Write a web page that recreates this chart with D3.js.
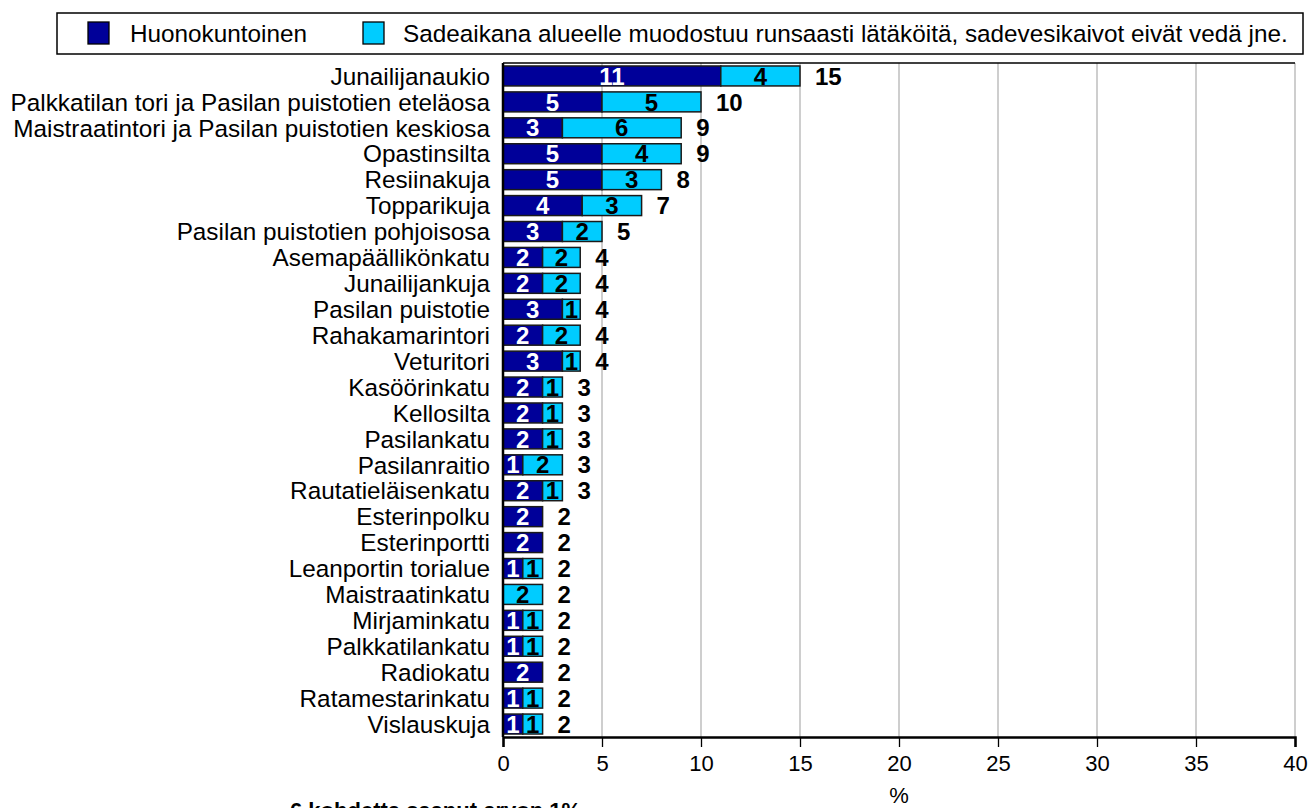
<!DOCTYPE html>
<html>
<head>
<meta charset="utf-8">
<script src="https://cdn.jsdelivr.net/npm/d3@7/dist/d3.min.js"></script>
<style>
  html, body { margin: 0; padding: 0; background: #fff; }
  svg { display: block; font-family: Arial, "Liberation Sans", sans-serif; }
</style>
</head>
<body>
<svg id="chart" width="1312" height="808"></svg>
<script>
const categories = [
  "Junailijanaukio",
  "Palkkatilan tori ja Pasilan puistotien eteläosa",
  "Maistraatintori ja Pasilan puistotien keskiosa",
  "Opastinsilta",
  "Resiinakuja",
  "Topparikuja",
  "Pasilan puistotien pohjoisosa",
  "Asemapäällikönkatu",
  "Junailijankuja",
  "Pasilan puistotie",
  "Rahakamarintori",
  "Veturitori",
  "Kasöörinkatu",
  "Kellosilta",
  "Pasilankatu",
  "Pasilanraitio",
  "Rautatieläisenkatu",
  "Esterinpolku",
  "Esterinportti",
  "Leanportin torialue",
  "Maistraatinkatu",
  "Mirjaminkatu",
  "Palkkatilankatu",
  "Radiokatu",
  "Ratamestarinkatu",
  "Vislauskuja"
];
const huonokuntoinen = [11, 5, 3, 5, 5, 4, 3, 2, 2, 3, 2, 3, 2, 2, 2, 1, 2, 2, 2, 1, 0, 1, 1, 2, 1, 1];
const latakot =        [4, 5, 6, 4, 3, 3, 2, 1.9, 1.9, 0.9, 1.9, 0.9, 1, 1, 1, 2, 1, 0, 0, 1, 2, 1, 1, 0, 1, 1];
const seriesNames = ["Huonokuntoinen", "Sadeaikana alueelle muodostuu runsaasti lätäköitä, sadevesikaivot eivät vedä jne."];
const seriesColors = ["#000099", "#00ccff"];
const labelColors = ["#ffffff", "#000000"];
const xTicks = [0, 5, 10, 15, 20, 25, 30, 35, 40];
const xTitle = "%";
const footnote = "6 kohdetta saanut arvon 1%";

const svg = d3.select("#chart");
const M = { left: 503, right: 1295, top: 63, bottom: 737 };

const x = d3.scaleLinear().domain([0, 40]).range([M.left, M.right]);
const y = d3.scaleBand().domain(categories).range([M.top, M.bottom]).paddingInner(0.23).paddingOuter(0.115);

const rows = categories.map((c, i) => ({ cat: c, vals: [huonokuntoinen[i], latakot[i]] }));

// gridlines
svg.append("g").selectAll("line").data(xTicks.filter(t => t > 0)).join("line")
  .attr("x1", d => x(d)).attr("x2", d => x(d))
  .attr("y1", M.top).attr("y2", M.bottom)
  .attr("stroke", "#b4b4b4").attr("stroke-width", 1.3);

// top border
svg.append("line").attr("x1", M.left).attr("x2", M.right).attr("y1", M.top).attr("y2", M.top)
  .attr("stroke", "#000").attr("stroke-width", 1.5);

// bars
const segs = [];
rows.forEach(r => {
  let acc = 0;
  r.vals.forEach((v, k) => {
    segs.push({ cat: r.cat, k, v, x0: acc, x1: acc + v });
    acc += v;
  });
  r.total = acc;
});

svg.append("g").selectAll("rect").data(segs.filter(s => s.v > 0)).join("rect")
  .attr("x", d => x(d.x0)).attr("width", d => x(d.x1) - x(d.x0))
  .attr("y", d => y(d.cat)).attr("height", y.bandwidth())
  .attr("fill", d => seriesColors[d.k])
  .attr("stroke", "#1a1a1a").attr("stroke-width", 1.5);

// segment labels
svg.append("g").selectAll("text").data(segs.filter(s => s.v > 0)).join("text")
  .attr("x", d => (x(d.x0) + x(d.x1)) / 2)
  .attr("y", d => y(d.cat) + y.bandwidth() / 2)
  .attr("dy", "0.36em")
  .attr("text-anchor", "middle")
  .attr("font-weight", "bold").attr("font-size", 24)
  .attr("fill", d => labelColors[d.k])
  .text(d => Math.round(d.v));

// totals
svg.append("g").selectAll("text").data(rows).join("text")
  .attr("x", d => x(d.total) + 15)
  .attr("y", d => y(d.cat) + y.bandwidth() / 2)
  .attr("dy", "0.36em")
  .attr("font-weight", "bold").attr("font-size", 24)
  .attr("fill", "#000")
  .text(d => Math.round(d.total));

// category labels
svg.append("g").selectAll("text").data(categories).join("text")
  .attr("x", M.left - 13)
  .attr("y", d => y(d) + y.bandwidth() / 2)
  .attr("dy", "0.36em")
  .attr("text-anchor", "end")
  .attr("font-size", 24.3)
  .attr("fill", "#000")
  .text(d => d);

// x axis
const xAxis = svg.append("g").attr("transform", `translate(0,${M.bottom})`)
  .call(d3.axisBottom(x).tickValues(xTicks).tickSize(10).tickPadding(8).tickFormat(d3.format("d")));
xAxis.select(".domain").attr("stroke", "#000").attr("stroke-width", 2.5);
xAxis.selectAll(".tick line").attr("stroke", "#000").attr("stroke-width", 1.3);
xAxis.selectAll(".tick text").attr("font-size", 22).attr("font-family", "Arial, 'Liberation Sans', sans-serif").attr("fill", "#000");

// y axis line
svg.append("line").attr("x1", M.left).attr("x2", M.left).attr("y1", M.top).attr("y2", M.bottom)
  .attr("stroke", "#000").attr("stroke-width", 2.5);

// x title
svg.append("text").attr("x", (M.left + M.right) / 2).attr("y", 795).attr("dy", "0.36em")
  .attr("text-anchor", "middle").attr("font-size", 22).text(xTitle);

// footnote
svg.append("text").attr("x", 290).attr("y", 818)
  .attr("font-size", 22).attr("font-weight", "bold").text(footnote);

// legend
const lg = svg.append("g");
lg.append("rect").attr("x", 57).attr("y", 13).attr("width", 1246).attr("height", 41)
  .attr("fill", "#fff").attr("stroke", "#000").attr("stroke-width", 1.5);
const legendX = [[88, 130], [363, 403]];
seriesNames.forEach((n, k) => {
  lg.append("rect").attr("x", legendX[k][0]).attr("y", 22).attr("width", 21).attr("height", 22)
    .attr("fill", seriesColors[k]).attr("stroke", "#000").attr("stroke-width", 1.3);
  lg.append("text").attr("x", legendX[k][1]).attr("y", 33).attr("dy", "0.36em")
    .attr("font-size", 24.3).text(n);
});
</script>
</body>
</html>
